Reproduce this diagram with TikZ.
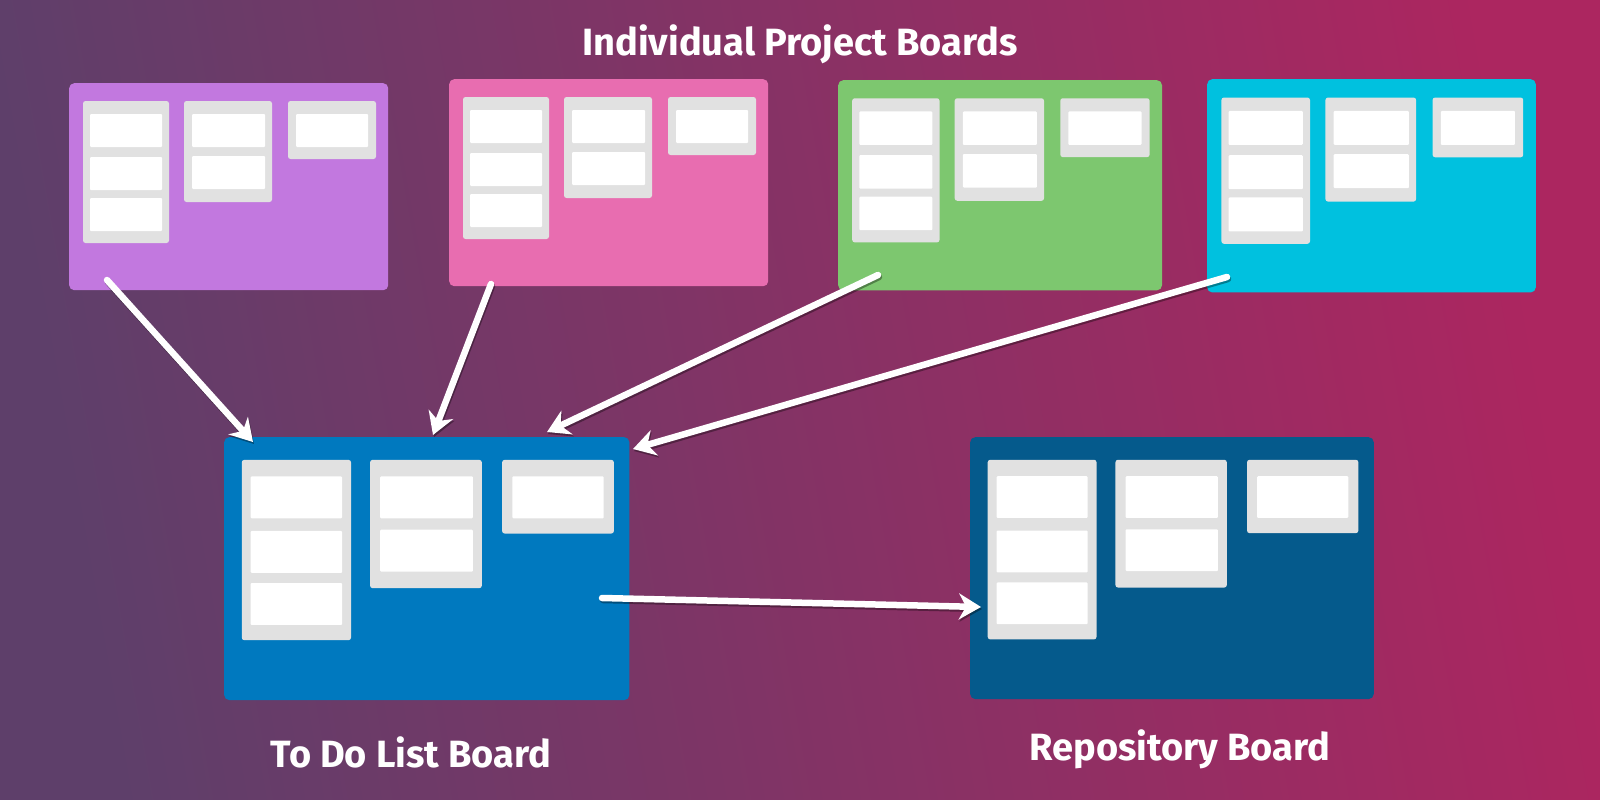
\documentclass[tikz,border=0pt]{standalone}
\usepackage{fontspec}
\setmainfont{Fira Sans}
\usetikzlibrary{arrows.meta,positioning,calc}
\definecolor{bgleft}{HTML}{5E3F6A}
\definecolor{bgmid}{HTML}{773967}
\definecolor{bgright}{HTML}{AC2660}
\definecolor{brdpurple}{HTML}{C278DF}
\definecolor{brdpink}{HTML}{E86DB0}
\definecolor{brdgreen}{HTML}{7DC76F}
\definecolor{brdcyan}{HTML}{00C1DF}
\definecolor{brdtodo}{HTML}{0079BF}
\definecolor{brdrepo}{HTML}{055A8C}
\definecolor{listgrey}{HTML}{E1E1E1}

\begin{document}
\begin{tikzpicture}[
  x=1pt, y=-1pt,
  board/.style={rounded corners=5pt, inner sep=0pt, anchor=north west,
                minimum width=#1*319pt, minimum height=#1*207pt},
  lst/.style={fill=listgrey, rounded corners=2.5pt},
  card/.style={fill=white, rounded corners=1pt},
  tip/.style={-{Stealth[length=22pt, width=26pt, inset=7pt]}},
  arr/.style={tip, white, line width=6.5pt, line cap=round,
              preaction={draw=black, opacity=0.35, tip, line width=6.5pt,
                         line cap=round,
                         transform canvas={shift={(1pt,-2pt)}}}},
  lbl/.style={text=white, inner sep=0pt,
              font=\bfseries\fontsize{38}{44}\selectfont},
]

% lists and cards of one board, drawn in board units
\def\lists#1#2{%
  \begin{scope}[shift={(#1.north west)}, scale=#2]
    \fill[lst] (14,18)  rectangle (100,160);
    \fill[lst] (115,18) rectangle (203,119);
    \fill[lst] (219,18) rectangle (307,76);
    \foreach \y in {31,74,115} \fill[card] (21,\y) rectangle ++(72,33);
    \foreach \y in {31,73}     \fill[card] (123,\y) rectangle ++(73,33);
    \fill[card] (227,31) rectangle ++(72,33);
  \end{scope}}

% ---------------- background ----------------------------------------
\shade[left color=bgleft, middle color=bgmid, right color=bgright,
       shading angle=100]
  (0,0) rectangle (1600,800);
\useasboundingbox (0,0) rectangle (1600,800);

% ---------------- individual project boards -------------------------
\node[lbl] (title) at (800,44) {Individual Project Boards};

\node[board=1,     fill=brdpurple] (purple) at (69,83)   {};
\node[board=1,     fill=brdpink]   (pink)   at (449,79)  {};
\node[board=1.015, fill=brdgreen]  (green)  at (838,80)  {};
\node[board=1.03,  fill=brdcyan]   (cyan)   at (1207,79) {};

\lists{purple}{1}
\lists{pink}{1}
\lists{green}{1.015}
\lists{cyan}{1.03}

% ---------------- to do list and repository -------------------------
\node[board=1.27,  fill=brdtodo] (todo) at (224,437) {};
\node[board=1.265, fill=brdrepo] (repo) at (970,437) {};

\lists{todo}{1.27}
\lists{repo}{1.265}

\node[lbl] (todolbl) at (411,752)  {To Do List Board};
\node[lbl] (repolbl) at (1180,749) {Repository Board};

% ---------------- flow of cards -------------------------------------
\draw[arr] ([shift={(38,197)}]purple.north west) -- ([shift={(29,5)}]todo.north west);
\draw[arr] ([shift={(42,205)}]pink.north west)   -- ([shift={(209,-2)}]todo.north west);
\draw[arr] ([shift={(40,195)}]green.north west)  -- ([shift={(323,-5)}]todo.north west);
\draw[arr] ([shift={(20,198)}]cyan.north west)   -- ([shift={(409,12)}]todo.north west);
\draw[arr] ([shift={(378,161)}]todo.north west)  -- ([shift={(11,170)}]repo.north west);

\end{tikzpicture}
\end{document}
